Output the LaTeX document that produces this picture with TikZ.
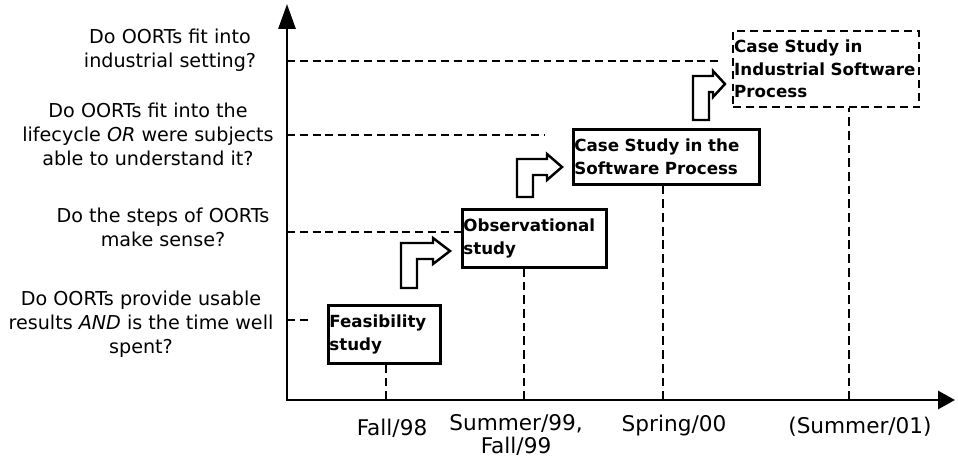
\documentclass[tikz,border=0pt]{standalone}
\usepackage{fontspec}
\setmainfont{DejaVu Sans}
\usetikzlibrary{arrows.meta}

\begin{document}
\begin{tikzpicture}[x=0.02cm, y=-0.02cm,
    question/.style={align=center, anchor=north, inner sep=0pt, font=\fontsize{10.9}{13.6}\selectfont},
    period/.style={align=center, anchor=north, inner sep=0pt, font=\fontsize{12.3}{13}\selectfont},
    stage/.style={draw, line width=1.6pt, anchor=north west, inner xsep=0.5pt, inner ysep=0pt,
                  align=left, font=\fontsize{9.5}{12.8}\selectfont\bfseries},
    guide/.style={line width=1.7pt, dash pattern=on 4.5pt off 2.8pt},
    tickline/.style={line width=1.1pt, dash pattern=on 5pt off 2.8pt},
    bent/.style={draw, fill=white, line width=1.4pt}]
  \useasboundingbox (0,0) rectangle (958,463);

  % axes
  \coordinate (o) at (287,400);
  \draw[line width=1.7pt, {Triangle[length=5mm,width=3.4mm]}-{Triangle[length=3.4mm,width=3.6mm]}]
    (287,4) -- (o) -- (955,400);

  \coordinate (q1) at (287,61);
  \coordinate (q2) at (287,135);
  \coordinate (q3) at (287,232);
  \coordinate (q4) at (287,320);
  \coordinate (t1) at (386,400);
  \coordinate (t2) at (524,400);
  \coordinate (t3) at (663,400);
  \coordinate (t4) at (849,400);

  % stages
  \node[stage, minimum width=2.24cm, minimum height=1.16cm, text width=2.2cm] (feas) at (327,304)
    {Feasibility\\study};
  \node[stage, minimum width=2.88cm, minimum height=1.16cm, text width=2.84cm] (obs) at (461,208)
    {Observational\\study};
  \node[stage, minimum width=3.72cm, minimum height=1.10cm, text width=3.68cm] (casesp) at (572,128)
    {Case Study in the\\Software Process};
  \node[stage, dash pattern=on 4.5pt off 2.8pt, line width=1.4pt, minimum width=3.72cm,
        minimum height=1.52cm, text width=3.68cm] (ind) at (732,30)
    {Case Study in\\Industrial Software\\Process};

  % guides
  \draw[guide] (q1) -- ++(433,0);
  \draw[guide] (q2) -- ++(258,0);
  \draw[guide] (q3) -- (q3 -| obs.west);
  \draw[guide] (q4) -- ++(25,0);
  \draw[tickline] (t1) -- (t1 |- feas.south);
  \draw[tickline] (t2) -- (t2 |- obs.south);
  \draw[tickline] (t3) -- (t3 |- casesp.south);
  \draw[tickline] (t4) -- (t4 |- ind.south);

  % bent arrows between stages
  \foreach \sx/\sy/\sh/\hb/\tp in {401/288/243/433/450, 517/197/159/547/562, 693/120/76/713/725}
    \draw[bent] (\sx,\sy) -- (\sx,\sh) -- (\hb,\sh) -- (\hb,\sh-5) -- (\tp,\sh+8)
      -- (\hb,\sh+21) -- (\hb,\sh+16) -- (\sx+16,\sh+16) -- (\sx+16,\sy) -- cycle;

  % questions
  \node[question] (ask1) at (170,29) {Do OORTs fit into\\industrial setting?};
  \node[question] (ask2) at (148,103) {Do OORTs fit into the\\lifecycle \textit{OR} were subjects\\able to understand it?};
  \node[question] (ask3) at (163,208) {Do the steps of OORTs\\make sense?};
  \node[question] (ask4) at (141,291) {Do OORTs provide usable\\results \textit{AND} is the time well\\spent?};

  % periods
  \node[period] (p1) at (392,419) {Fall/98};
  \node[period] (p2) at (516,414) {Summer/99,\\Fall/99};
  \node[period] (p3) at (674,415) {Spring/00};
  \node[period] (p4) at (860,417) {(Summer/01)};
\end{tikzpicture}
\end{document}
